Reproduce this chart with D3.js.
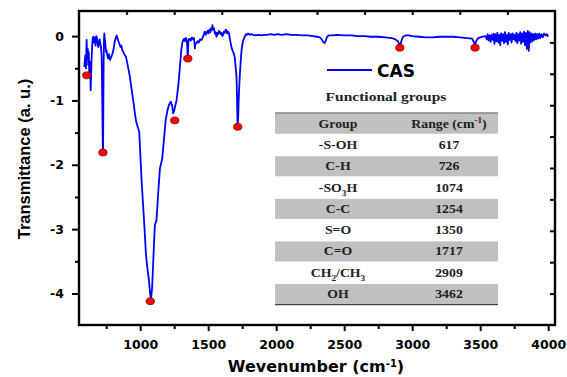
<!DOCTYPE html>
<html>
<head>
<meta charset="utf-8">
<script src="https://cdn.jsdelivr.net/npm/d3@7"></script>
<style>
  body { margin: 0; background: #fff; }
</style>
</head>
<body>
<div id="chart"></div>
<script>
// FTIR spectrum of CAS
var wavenumber = [
  589, 596, 601, 606, 611, 615, 618, 622, 626, 630, 636, 641, 646, 650, 655, 660, 666, 672, 677, 683,
  688, 692, 697, 702, 707, 712, 716, 719, 722, 725, 727, 729, 731, 734, 736, 740, 745, 749, 753, 758,
  764, 770, 778, 786, 797, 806, 813, 820, 827, 834, 840, 846, 855, 862, 868, 874, 880, 888, 895, 905,
  915, 924, 935, 945, 955, 961, 968, 974, 983, 993, 1000, 1010, 1022, 1032, 1042, 1052, 1064, 1072, 1078, 1083,
  1088, 1095, 1102, 1108, 1120, 1132, 1145, 1162, 1175, 1187, 1200, 1211, 1225, 1235, 1242, 1250, 1258, 1267, 1275, 1284,
  1293, 1302, 1311, 1317, 1323, 1330, 1336, 1342, 1346, 1348, 1351, 1354, 1358, 1365, 1372, 1380, 1388, 1395, 1399, 1402,
  1406, 1414, 1422, 1430, 1440, 1451, 1460, 1468, 1475, 1482, 1488, 1495, 1502, 1508, 1515, 1520, 1526, 1531, 1537, 1543,
  1549, 1555, 1561, 1567, 1573, 1579, 1585, 1592, 1598, 1604, 1610, 1616, 1622, 1628, 1634, 1640, 1646, 1653, 1660, 1666,
  1671, 1678, 1688, 1695, 1702, 1708, 1712, 1715, 1717, 1720, 1724, 1728, 1732, 1738, 1745, 1752, 1760, 1769, 1778, 1785,
  1793, 1805, 1818, 1830, 1850, 1870, 1890, 1910, 1935, 1960, 1985, 2010, 2040, 2075, 2110, 2150, 2190, 2230, 2270, 2300,
  2320, 2335, 2345, 2356, 2365, 2372, 2385, 2410, 2450, 2500, 2550, 2600, 2650, 2700, 2750, 2800, 2850, 2875, 2895, 2905,
  2912, 2920, 2932, 2950, 2975, 3000, 3050, 3100, 3150, 3200, 3250, 3300, 3350, 3400, 3440, 3455, 3462, 3470, 3485, 3500,
  3520, 3540, 3548, 3555, 3562, 3570, 3577, 3584, 3591, 3598, 3605, 3612, 3619, 3626, 3633, 3640, 3647, 3654, 3661, 3668,
  3675, 3682, 3689, 3696, 3703, 3710, 3717, 3724, 3731, 3738, 3745, 3752, 3759, 3766, 3773, 3780, 3787, 3794, 3801, 3808,
  3815, 3822, 3829, 3836, 3843, 3850, 3857, 3864, 3871, 3878, 3885, 3892, 3899, 3906, 3913, 3920, 3927, 3934, 3941, 3950,
  3960, 3970, 3980, 3990, 4000
];
var transmittance = [
  -0.48, -0.30, -0.50, -0.06, -0.35, -0.20, -0.45, -0.25, -0.62, -0.40, -0.84, -0.45, -0.20, -0.05, -0.01, -0.10, -0.02, -0.15, 0.00, -0.04,
  -0.12, -0.17, -0.10, -0.05, -0.12, -0.18, -0.30, -0.60, -1.20, -1.75, -1.80, -1.10, -0.40, -0.05, 0.04, -0.05, -0.15, -0.25, -0.22, -0.30,
  -0.35, -0.28, -0.37, -0.33, -0.27, -0.18, -0.08, -0.03, 0.01, -0.04, -0.08, -0.11, -0.17, -0.15, -0.22, -0.24, -0.27, -0.30, -0.32, -0.42,
  -0.53, -0.63, -0.80, -0.95, -1.10, -1.20, -1.30, -1.36, -1.42, -1.49, -1.80, -2.24, -2.65, -3.00, -3.38, -3.60, -3.79, -3.98, -4.08, -4.02,
  -3.90, -3.55, -3.20, -2.94, -2.86, -2.45, -2.06, -1.90, -1.60, -1.31, -1.16, -1.07, -1.02, -1.08, -1.20, -1.16, -1.08, -1.00, -0.86, -0.68,
  -0.45, -0.22, -0.09, -0.06, -0.04, -0.08, -0.03, -0.06, -0.15, -0.30, -0.32, -0.10, -0.05, -0.04, -0.07, -0.02, -0.05, -0.03, -0.10, -0.19,
  -0.12, -0.11, -0.08, -0.10, -0.05, -0.06, -0.02, 0.03, 0.07, 0.02, 0.05, 0.08, 0.04, 0.10, 0.06, 0.12, 0.09, 0.17, 0.10, 0.12,
  0.04, 0.06, -0.01, 0.05, 0.03, 0.08, 0.07, 0.03, 0.05, 0.00, 0.02, 0.07, 0.05, 0.10, 0.09, 0.04, 0.07, 0.04, -0.05, -0.12,
  -0.17, -0.22, -0.27, -0.33, -0.48, -0.63, -0.95, -1.30, -1.37, -1.30, -1.00, -0.80, -0.63, -0.42, -0.22, -0.12, -0.05, -0.01, 0.03, 0.02,
  0.04, 0.02, 0.03, 0.02, 0.01, 0.02, 0.01, 0.02, 0.02, 0.03, 0.02, 0.03, 0.02, 0.03, 0.02, 0.02, 0.01, 0.01, 0.00, -0.01,
  -0.02, -0.05, -0.09, -0.11, -0.07, -0.02, 0.01, 0.01, 0.02, 0.01, 0.01, 0.00, 0.00, -0.01, -0.01, -0.02, -0.03, -0.05, -0.08, -0.13,
  -0.15, -0.08, -0.01, 0.01, 0.01, 0.00, -0.01, -0.02, -0.02, -0.01, -0.01, -0.01, -0.02, -0.03, -0.04, -0.10, -0.13, -0.08, -0.03, -0.02,
  -0.01, 0.00, -0.05, 0.03, -0.07, 0.01, -0.09, 0.02, -0.06, 0.04, -0.12, 0.03, -0.08, 0.05, -0.10, 0.02, -0.14, 0.04, -0.07, 0.03,
  -0.11, 0.06, -0.09, 0.02, -0.13, 0.05, -0.06, 0.03, -0.10, 0.04, -0.05, 0.02, -0.08, 0.05, -0.11, 0.03, -0.07, 0.06, -0.12, 0.04,
  -0.09, 0.07, -0.14, 0.05, -0.20, 0.08, -0.23, 0.06, -0.10, 0.04, -0.08, 0.03, -0.06, 0.04, -0.05, 0.03, -0.04, 0.04, -0.03, 0.03,
  -0.02, 0.04, 0.01, 0.03, -0.01
];

// red dots marking the bands
var peakWavenumber = [607, 726, 1074, 1254, 1350, 1717, 2909, 3462];
var peakTransmittance = [-0.61, -1.81, -4.12, -1.31, -0.35, -1.41, -0.18, -0.18];

// table of functional groups
var groupNames = ["-S-OH", "C-H", "-SO3H", "C-C", "S=O", "C=O", "CH2/CH3", "OH"];
var groupRanges = ["617", "726", "1074", "1254", "1350", "1717", "2909", "3462"];

var xTicks = [1000, 1500, 2000, 2500, 3000, 3500, 4000];
var xMinorTicks = [750, 1250, 1750, 2250, 2750, 3250, 3750];
var yTicks = [0, -1, -2, -3, -4];
var yMinorTicks = [-0.5, -1.5, -2.5, -3.5];

var width = 567, height = 377;
// plot box in pixels (window.top is read-only, so no plain "top" here)
var plotLeft = 79, plotRight = 555, plotTop = 11, plotBottom = 325;

var svg = d3.select('#chart').append('svg')
  .attr('width', width)
  .attr('height', height)
  .style('background', '#fff');

var x = d3.scaleLinear().domain([550, 4050]).range([plotLeft, plotRight]);
var y = d3.scaleLinear().domain([0.39, -4.49]).range([plotTop, plotBottom]);
// top and right axes of the frame just split it in ten
var xTop = d3.scaleLinear().domain([0, 10]).range([plotLeft, plotRight]);
var yRight = d3.scaleLinear().domain([0, 10]).range([plotTop, plotBottom]);

var tickFont = 'DejaVu Sans, sans-serif';

function styleAxis(g) {
  g.select('.domain').remove();
  g.selectAll('line').attr('stroke', '#000').attr('stroke-width', 2);
  g.selectAll('text')
    .attr('fill', '#000')
    .style('font-family', tickFont)
    .style('font-weight', 'bold')
    .style('font-size', '12.5px');
}

svg.append('g')
  .attr('transform', 'translate(0,' + plotBottom + ')')
  .call(d3.axisBottom(x).tickValues(xTicks).tickSize(6).tickPadding(9).tickFormat(String))
  .call(styleAxis);
svg.append('g')
  .attr('transform', 'translate(0,' + plotBottom + ')')
  .call(d3.axisBottom(x).tickValues(xMinorTicks).tickSize(4).tickFormat(''))
  .call(styleAxis);

svg.append('g')
  .attr('transform', 'translate(' + plotLeft + ',0)')
  .call(d3.axisLeft(y).tickValues(yTicks).tickSize(7).tickPadding(8).tickFormat(String))
  .call(styleAxis);
svg.append('g')
  .attr('transform', 'translate(' + plotLeft + ',0)')
  .call(d3.axisLeft(y).tickValues(yMinorTicks).tickSize(4).tickFormat(''))
  .call(styleAxis);

svg.append('g')
  .attr('transform', 'translate(0,' + plotTop + ')')
  .call(d3.axisTop(xTop).tickValues(d3.range(1, 10)).tickSize(-4).tickFormat(''))
  .call(styleAxis);
svg.append('g')
  .attr('transform', 'translate(' + plotRight + ',0)')
  .call(d3.axisRight(yRight).tickValues(d3.range(1, 10)).tickSize(-5).tickFormat(''))
  .call(styleAxis);

// frame
svg.append('rect')
  .attr('x', plotLeft).attr('y', plotTop)
  .attr('width', plotRight - plotLeft).attr('height', plotBottom - plotTop)
  .attr('fill', 'none').attr('stroke', '#000').attr('stroke-width', 2.4);

// table (drawn under the spectrum)
var tableLeft = 275, tableRight = 498, tableTop = 113, rowH = 21.3;
var colGroup = 338, colRange = 449;
var table = svg.append('g');

table.selectAll('rect.band')
  .data(d3.range(0, 9, 2))
  .enter().append('rect')
    .attr('class', 'band')
    .attr('x', tableLeft)
    .attr('y', function (i) { return tableTop + i * rowH + 0.6; })
    .attr('width', tableRight - tableLeft)
    .attr('height', rowH - 1.2)
    .attr('fill', '#c0c0c0');

table.append('line')
  .attr('x1', tableLeft).attr('x2', tableRight)
  .attr('y1', tableTop).attr('y2', tableTop)
  .attr('stroke', '#444').attr('stroke-width', 1.2);
table.append('line')
  .attr('x1', tableLeft).attr('x2', tableRight)
  .attr('y1', tableTop + 9 * rowH).attr('y2', tableTop + 9 * rowH)
  .attr('stroke', '#444').attr('stroke-width', 1.2);

function cellText(cx, row) {
  return table.append('text')
    .attr('transform', 'translate(' + cx + ',' + (tableTop + (row + 0.5) * rowH + 4) + ') scale(1.15,1)')
    .attr('text-anchor', 'middle')
    .style('font-family', 'Liberation Serif, Times New Roman, serif')
    .style('font-weight', 'bold')
    .style('font-size', '12px')
    .attr('fill', '#222');
}

// put the digits of a formula down as subscripts
function chemLabel(t, s) {
  s.split(/(\d)/).forEach(function (part, k) {
    if (!part) return;
    var ts = t.append('tspan').text(part);
    if (k % 2 === 1) ts.attr('baseline-shift', 'sub').style('font-size', '8px');
  });
}

cellText(colGroup, 0).text('Group');
var rangeHead = cellText(colRange, 0);
rangeHead.append('tspan').text('Range (cm');
rangeHead.append('tspan').text('-1').attr('baseline-shift', 'super').style('font-size', '8px');
rangeHead.append('tspan').text(')');

groupNames.forEach(function (name, i) {
  chemLabel(cellText(colGroup, i + 1), name);
  cellText(colRange, i + 1).text(groupRanges[i]);
});

svg.append('text')
  .attr('transform', 'translate(386,101) scale(1.15,1)')
  .attr('text-anchor', 'middle')
  .style('font-family', 'Liberation Serif, Times New Roman, serif')
  .style('font-weight', 'bold')
  .style('font-size', '13.5px')
  .attr('fill', '#222')
  .text('Functional groups');

// spectrum
var line = d3.line()
  .x(function (d, i) { return x(wavenumber[i]); })
  .y(function (d) { return y(d); });

svg.append('path')
  .datum(transmittance)
  .attr('d', line)
  .attr('fill', 'none')
  .attr('stroke', '#0000ff')
  .attr('stroke-width', 1.8)
  .attr('stroke-linejoin', 'round');

svg.selectAll('ellipse.peak')
  .data(peakWavenumber)
  .enter().append('ellipse')
    .attr('class', 'peak')
    .attr('cx', function (d) { return x(d); })
    .attr('cy', function (d, i) { return y(peakTransmittance[i]); })
    .attr('rx', 4.2).attr('ry', 3.5)
    .attr('fill', '#ff0000')
    .attr('stroke', '#600').attr('stroke-width', 0.7);

// legend
svg.append('line')
  .attr('x1', 327).attr('x2', 372).attr('y1', 70).attr('y2', 70)
  .attr('stroke', '#0000ff').attr('stroke-width', 2);
svg.append('text')
  .attr('x', 377).attr('y', 76.5)
  .style('font-family', tickFont)
  .style('font-weight', 'bold')
  .style('font-size', '17px')
  .text('CAS');

// axis titles
svg.append('text')
  .attr('transform', 'translate(30,159) rotate(-90)')
  .attr('text-anchor', 'middle')
  .style('font-family', 'Liberation Sans, Arial, sans-serif')
  .style('font-weight', 'bold')
  .style('font-size', '16.5px')
  .text('Transmittance (a. u.)');

var xTitle = svg.append('text')
  .attr('x', 316).attr('y', 372)
  .attr('text-anchor', 'middle')
  .style('font-family', tickFont)
  .style('font-weight', 'bold')
  .style('font-size', '16px');
xTitle.append('tspan').text('Wevenumber (cm');
xTitle.append('tspan').text('-1').attr('baseline-shift', 'super').style('font-size', '10px');
xTitle.append('tspan').text(')');
</script>
</body>
</html>
